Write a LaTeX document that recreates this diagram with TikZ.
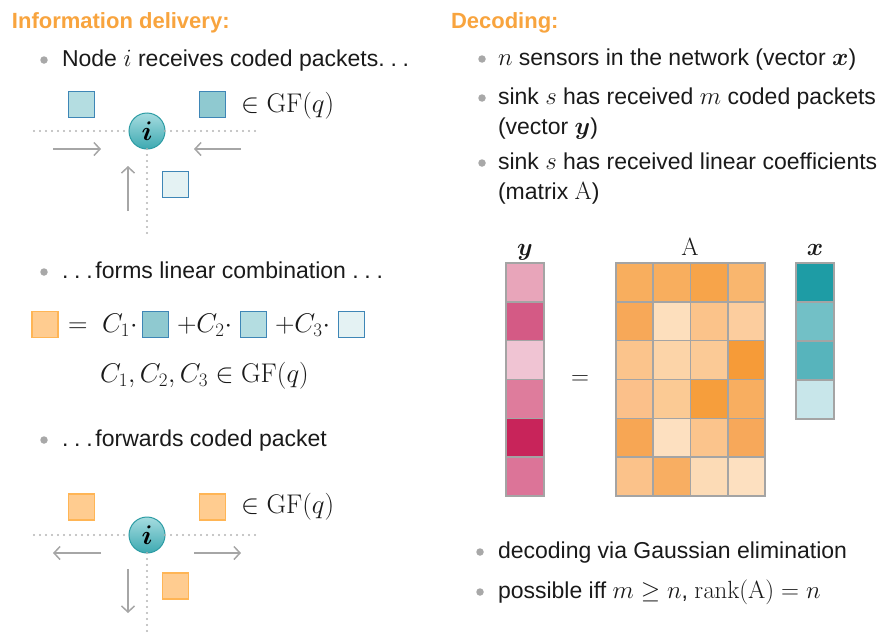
\documentclass[tikz,border=0pt]{standalone}
\usepackage{fix-cm}
\usepackage{amsmath}
\usepackage{bm}
\usepackage[no-math]{fontspec}
\setmainfont{Liberation Sans}
\usetikzlibrary{arrows.meta}
\DeclareMathSizes{23}{24.88}{17.28}{12.44}
\DeclareMathSizes{27}{27}{19}{14}

\definecolor{ink}{HTML}{1A1A1A}
\definecolor{headline}{HTML}{F8A43E}
\definecolor{bulletgray}{HTML}{A8A8A8}
\definecolor{dotgray}{HTML}{B4B4B4}
\definecolor{arrowgray}{HTML}{A6A6A6}
\definecolor{cellgray}{HTML}{A4A4A4}
\definecolor{pktblue}{HTML}{3E86B6}
\definecolor{pktdark}{HTML}{8FC9D0}
\definecolor{pktmid}{HTML}{B4DDE1}
\definecolor{pktlight}{HTML}{E4F2F3}
\definecolor{pktorange}{HTML}{FFCC90}
\definecolor{pktorangeedge}{HTML}{FFB555}
\definecolor{nodetop}{HTML}{A6DCE0}
\definecolor{nodebot}{HTML}{3DA9B1}
\definecolor{nodeedge}{HTML}{2C9CA4}
% received vector y
\definecolor{y0}{HTML}{E8A5BA}
\definecolor{y1}{HTML}{D45A85}
\definecolor{y2}{HTML}{F0C4D3}
\definecolor{y3}{HTML}{DE7C9C}
\definecolor{y4}{HTML}{C8245A}
\definecolor{y5}{HTML}{DC7498}
% source vector x
\definecolor{x0}{HTML}{1E9CA5}
\definecolor{x1}{HTML}{72C0C6}
\definecolor{x2}{HTML}{57B4BC}
\definecolor{x3}{HTML}{C8E6EA}
% coefficient matrix A
\definecolor{a00}{HTML}{F8AE5E}\definecolor{a01}{HTML}{F8AE5E}\definecolor{a02}{HTML}{F7A44A}\definecolor{a03}{HTML}{F9B66E}
\definecolor{a10}{HTML}{F7A858}\definecolor{a11}{HTML}{FDDFBD}\definecolor{a12}{HTML}{FBC38A}\definecolor{a13}{HTML}{FCCD9E}
\definecolor{a20}{HTML}{FBC48C}\definecolor{a21}{HTML}{FCD4A8}\definecolor{a22}{HTML}{FBCA96}\definecolor{a23}{HTML}{F69B38}
\definecolor{a30}{HTML}{FBC08A}\definecolor{a31}{HTML}{FBCA94}\definecolor{a32}{HTML}{F69E3C}\definecolor{a33}{HTML}{F8AE60}
\definecolor{a40}{HTML}{F7A654}\definecolor{a41}{HTML}{FDE0C0}\definecolor{a42}{HTML}{FBC48C}\definecolor{a43}{HTML}{F7A85A}
\definecolor{a50}{HTML}{FBC28A}\definecolor{a51}{HTML}{F8AE62}\definecolor{a52}{HTML}{FCDBB6}\definecolor{a53}{HTML}{FDE0C0}

\newcommand\txtsize{\fontsize{23}{27}\selectfont}
\newcommand\frmsize{\fontsize{27}{31}\selectfont}
% spaced ellipsis
\newcommand\spdots{.\kern0.25em.\kern0.25em.\kern0.12em}

\begin{document}
\begin{tikzpicture}[x=1pt,y=-1pt,
  every node/.style={inner sep=0pt,outer sep=0pt},
  txt/.style={anchor=base west,font=\txtsize,text=ink},
  frm/.style={anchor=base west,font=\frmsize,text=ink},
  head/.style={anchor=base west,font=\fontsize{22}{26}\selectfont\bfseries,text=headline},
  bul/.style={circle,fill=bulletgray,minimum size=7.5},
  pkt/.style={draw=pktblue,line width=1.2pt,minimum size=26},
  opkt/.style={draw=pktorangeedge,fill=pktorange,line width=1.2pt,minimum size=26},
  inode/.style={circle,draw=nodeedge,line width=1pt,top color=nodetop,bottom color=nodebot,
    minimum size=36,font=\frmsize},
  dots/.style={draw=dotgray,line width=2.2pt,line cap=round,dash pattern=on 0pt off 6pt},
  flow/.style={draw=arrowgray,line width=1.5pt,-{Straight Barb[length=6pt,width=13pt,line width=1.5pt]}},
  cell/.style={draw=cellgray,line width=1.6pt},
]
\useasboundingbox (0,0) rectangle (878,632);

% ---------------- left column: information delivery ----------------
\node[head] (hl) at (12,28) {Information delivery:};

\node[bul] (b1) at (44,60) {};
\node[txt] (t1) at (62,66) {Node $i$ receives coded packets\spdots};

% node i receiving packets
\node[inode] (n1) at (147,131) {$\bm{i}$};
\coordinate (n1w) at (34,131);
\coordinate (n1e) at (260,131);
\coordinate (n1s) at (147,238);
\draw[dots] (n1w) -- (n1);
\draw[dots] (n1) -- (n1e);
\draw[dots] (n1) -- (n1s);
\node[pkt,fill=pktmid] (p1) at (81.5,104.5) {};
\node[pkt,fill=pktdark] (p2) at (212.5,104.5) {};
\node[pkt,fill=pktlight] (p3) at (175.5,184.5) {};
\node[frm] (gf1) at (241,112) {$\in\mathrm{GF}(q)$};
\coordinate (a1s) at (53,149);  \coordinate (a1e) at (101,149);
\coordinate (a2s) at (241,149); \coordinate (a2e) at (194,149);
\coordinate (a3s) at (128,211); \coordinate (a3e) at (128,166);
\draw[flow] (a1s) -- (a1e);
\draw[flow] (a2s) -- (a2e);
\draw[flow] (a3s) -- (a3e);

\node[bul] (b2) at (44,272) {};
\node[txt] (t2) at (62,278) {\spdots forms linear combination\ \spdots};

% linear combination of the received packets
\node[opkt] (q0) at (45,324.5) {};
\node[frm] (eq) at (68,332) {$=$};
\node[frm] (c1) at (102,332) {$C_1{\cdot}$};
\node[pkt,fill=pktdark] (q1) at (155.5,324.5) {};
\node[frm] (c2) at (177,332) {$+C_2{\cdot}$};
\node[pkt,fill=pktmid] (q2) at (253.5,324.5) {};
\node[frm] (c3) at (275,332) {$+C_3{\cdot}$};
\node[pkt,fill=pktlight] (q3) at (351.5,324.5) {};
\node[frm] (cgf) at (100,382) {$C_1,C_2,C_3\in\mathrm{GF}(q)$};

\node[bul] (b3) at (44,440) {};
\node[txt] (t3) at (62,446) {\spdots forwards coded packet};

% node i forwarding the coded packet
\node[inode] (n2) at (147,535) {$\bm{i}$};
\coordinate (n2w) at (34,535);
\coordinate (n2e) at (260,535);
\coordinate (n2s) at (147,634);
\draw[dots] (n2w) -- (n2);
\draw[dots] (n2) -- (n2e);
\draw[dots] (n2) -- (n2s);
\node[opkt] (r1) at (81.5,507) {};
\node[opkt] (r2) at (212.5,507) {};
\node[opkt] (r3) at (175.5,586) {};
\node[frm] (gf2) at (241,513) {$\in\mathrm{GF}(q)$};
\coordinate (f1s) at (101,553); \coordinate (f1e) at (53,553);
\coordinate (f2s) at (194,553); \coordinate (f2e) at (241,553);
\coordinate (f3s) at (128,569); \coordinate (f3e) at (128,613);
\draw[flow] (f1s) -- (f1e);
\draw[flow] (f2s) -- (f2e);
\draw[flow] (f3s) -- (f3e);

% ---------------- right column: decoding ----------------
\node[head] (hr) at (451,28) {Decoding:};

\node[bul] (d1) at (482,59) {};
\node[txt] (s1) at (498,65) {$n$ sensors in the network (vector $\bm{x}$)};
\node[bul] (d2) at (482,98) {};
\node[txt] (s2) at (498,104) {sink $s$ has received $m$ coded packets};
\node[txt] (s2b) at (498,134) {(vector $\bm{y}$)};
\node[bul] (d3) at (482,163) {};
\node[txt] (s3) at (498,169) {sink $s$ has received linear coefficients};
\node[txt] (s3b) at (498,199) {(matrix $\mathrm{A}$)};

% y = A x
\node[txt,anchor=base] (ly) at (525,255) {$\bm{y}$};
\node[txt,anchor=base] (lA) at (690,255) {$\mathrm{A}$};
\node[txt,anchor=base] (lx) at (815,255) {$\bm{x}$};
\foreach \k in {0,...,5}
  \node[cell,fill=y\k,minimum width=38,minimum height=38.83] (y\k) at (525,282.4+38.83*\k) {};
\node[txt,anchor=center] (eqm) at (580,380) {$=$};
\foreach \r in {0,...,5}
  \foreach \k in {0,...,3}
    \node[cell,fill=a\r\k,minimum width=37.25,minimum height=38.83] (A\r\k) at (634.6+37.25*\k,282.4+38.83*\r) {};
\foreach \k in {0,...,3}
  \node[cell,fill=x\k,minimum width=38,minimum height=39] (x\k) at (815,282.5+39*\k) {};

\node[bul] (d4) at (480,552) {};
\node[txt] (s4) at (498,558) {decoding via Gaussian elimination};
\node[bul] (d5) at (480,592) {};
\node[txt] (s5) at (498,598) {possible iff $m\geq n$, $\mathrm{rank}(\mathrm{A})=n$};
\end{tikzpicture}
\end{document}
